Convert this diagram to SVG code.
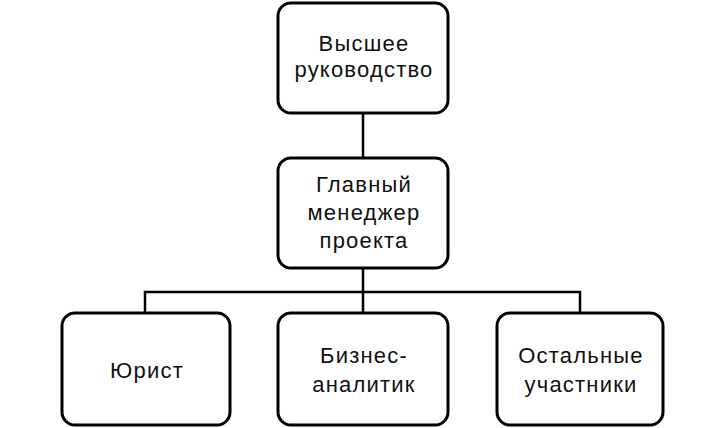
<svg xmlns="http://www.w3.org/2000/svg" width="726" height="428" viewBox="0 0 726 428">
<style>
.box{fill:#fff;stroke:#000;stroke-width:3}
.t{font-family:"Liberation Sans","Open Sans",sans-serif;font-size:22px;letter-spacing:1.2px;fill:#111;text-anchor:middle}
.c{fill:none;stroke:#000;stroke-width:2.5}
</style>
<rect width="726" height="428" fill="#fff"/>
<g id="connectors">
<line class="c" x1="363" y1="112" x2="363" y2="158"/>
<line class="c" x1="363" y1="268" x2="363" y2="313"/>
<polyline class="c" points="145,313 145,292 580,292 580,313"/>
</g>
<g id="top">
<rect class="box" x="278" y="3" width="170" height="110" rx="13"/>
<text class="t" x="364" y="51">Высшее</text>
<text class="t" x="364" y="77">руководство</text>
</g>
<g id="pm">
<rect class="box" x="278" y="158" width="170" height="110" rx="13"/>
<text class="t" x="364" y="192">Главный</text>
<text class="t" x="364" y="220">менеджер</text>
<text class="t" x="364" y="248">проекта</text>
</g>
<g id="lawyer">
<rect class="box" x="62" y="313" width="168" height="112" rx="13"/>
<text class="t" x="147" y="378">Юрист</text>
</g>
<g id="analyst">
<rect class="box" x="278" y="313" width="170" height="112" rx="13"/>
<text class="t" x="364" y="363">Бизнес-</text>
<text class="t" x="364" y="392">аналитик</text>
</g>
<g id="others">
<rect class="box" x="497" y="313" width="166" height="112" rx="13"/>
<text class="t" x="581" y="363">Остальные</text>
<text class="t" x="581" y="392">участники</text>
</g>
</svg>
